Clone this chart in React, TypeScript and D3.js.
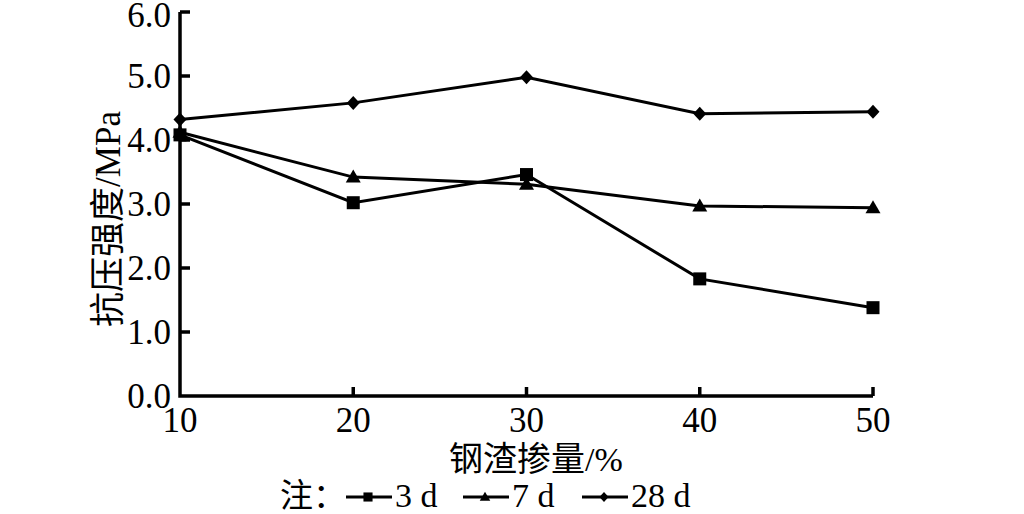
import React from "react";
import * as d3 from "d3";

// steel slag content (%)
const slagContent = [10, 20, 30, 40, 50];
// compressive strength (MPa)
const strength3d = [4.08, 3.02, 3.46, 1.83, 1.38];
const strength7d = [4.12, 3.42, 3.31, 2.97, 2.94];
const strength28d = [4.32, 4.58, 4.98, 4.41, 4.44];
const yTicks = [0, 1, 2, 3, 4, 5, 6];
const xTicks = [10, 20, 30, 40, 50];
const seriesNames = ["3 d", "7 d", "28 d"];
const markerTypes = ["square", "triangle", "diamond"];

const serif = "'Liberation Serif', 'DejaVu Serif', serif";
const cjk = "'Liberation Serif', 'Noto Sans CJK SC', serif";

const Marker = ({ type, x, y, s = 1 }: { type: string; x: number; y: number; s?: number }) => {
  if (type === "square")
    return <rect x={x - 6.5 * s} y={y - 6.5 * s} width={13 * s} height={13 * s} fill="#000" />;
  if (type === "triangle")
    return (
      <path
        d={`M${x},${y - 7.5 * s}L${x + 7.5 * s},${y + 5.5 * s}L${x - 7.5 * s},${y + 5.5 * s}Z`}
        fill="#000"
      />
    );
  return (
    <path
      d={`M${x},${y - 7 * s}L${x + 6.5 * s},${y}L${x},${y + 7 * s}L${x - 6.5 * s},${y}Z`}
      fill="#000"
    />
  );
};

const App = () => {
  const width = 1024;
  const height = 514;
  const x = d3.scaleLinear().domain([10, 50]).range([180, 873]);
  const y = d3.scaleLinear().domain([0, 6]).range([396, 12]);
  const series = [strength3d, strength7d, strength28d];
  const line = d3
    .line<number>()
    .x((_, i) => x(slagContent[i]))
    .y((d) => y(d));

  const legendItems = [
    { lx: 346, tx: 395 },
    { lx: 463, tx: 512 },
    { lx: 582, tx: 631 },
  ];

  return (
    <div style={{ position: "absolute", left: 0, top: 0 }}>
      <svg width={width} height={height} style={{ display: "block", background: "#fff" }}>
        {/* axes */}
        <path d={`M${x(10)},${y(6)}V${y(0)}H${x(50)}`} fill="none" stroke="#000" strokeWidth={3.5} />
        {yTicks.map((t) => (
          <g key={"y" + t}>
            {t > 0 && <line x1={x(10)} x2={x(10) + 10} y1={y(t)} y2={y(t)} stroke="#000" strokeWidth={3.5} />}
            <text
              x={171}
              y={t === 6 ? y(t) + 3 : y(t)}
              dy="0.34em"
              textAnchor="end"
              fontFamily={serif}
              fontSize={35}
              fill="#000"
            >
              {d3.format(".1f")(t)}
            </text>
          </g>
        ))}
        {xTicks.map((t) => (
          <g key={"x" + t}>
            {t > 10 && <line x1={x(t)} x2={x(t)} y1={y(0)} y2={y(0) - 9} stroke="#000" strokeWidth={3.5} />}
            <text x={x(t)} y={432} textAnchor="middle" fontFamily={serif} fontSize={35} fill="#000">
              {t}
            </text>
          </g>
        ))}
        <text x={536} y={471} textAnchor="middle" fontFamily={cjk} fontSize={34} fill="#000">
          钢渣掺量/%
        </text>
        <text
          transform={`translate(120,219) rotate(-90)`}
          textAnchor="middle"
          fontFamily={cjk}
          fontSize={35}
          fill="#000"
        >
          抗压强度/MPa
        </text>

        {/* series */}
        {series.map((s, si) => (
          <g key={si}>
            <path d={line(s) || ""} fill="none" stroke="#000" strokeWidth={3} />
            {s.map((v, i) => (
              <Marker key={i} type={markerTypes[si]} x={x(slagContent[i])} y={y(v)} />
            ))}
          </g>
        ))}

        {/* legend */}
        <text x={280} y={507} fontFamily={cjk} fontSize={33} fill="#000">
          注：
        </text>
        {legendItems.map((it, i) => (
          <g key={i}>
            <line x1={it.lx} x2={it.lx + 46} y1={497} y2={497} stroke="#000" strokeWidth={3} />
            <Marker type={markerTypes[i]} x={it.lx + 22} y={497} s={0.7} />
            <text x={it.tx} y={507} fontFamily={serif} fontSize={34} fill="#000">
              {seriesNames[i]}
            </text>
          </g>
        ))}
      </svg>
    </div>
  );
};

export default App;
